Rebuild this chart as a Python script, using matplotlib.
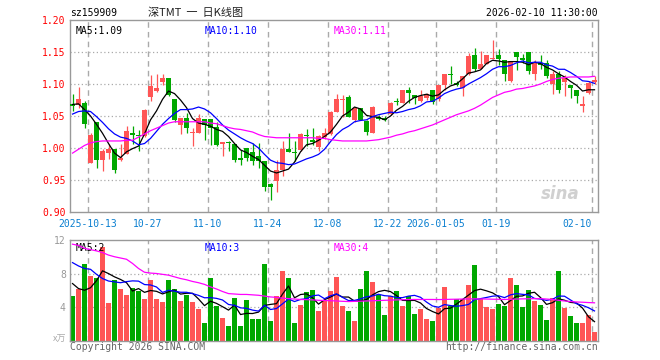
import matplotlib
matplotlib.use("Agg")
import matplotlib.pyplot as plt
import numpy as np

W, H = 660, 360
RED = "#ff5555"
GREEN = "#00a800"
GRID = "#aaaaaa"
MONO = "DejaVu Sans Mono"

# daily candles, 2025-09-30 .. 2026-02-10 (88 trading days)
opens = [1.069, 1.067, 1.071, 0.977, 1.040, 0.982, 0.992, 0.998, 0.981, 0.991,
         1.023, 1.021, 1.018, 1.079, 1.089, 1.103, 1.110, 1.076, 1.036, 1.047,
         1.023, 1.024, 1.045, 1.045, 1.033, 1.007, 1.010, 1.007, 0.984, 1.000,
         0.994, 0.987, 0.979, 0.944, 0.948, 0.965, 0.999, 0.994, 0.997, 1.021,
         1.013, 1.001, 1.017, 1.022, 1.057, 1.075, 1.079, 1.043, 1.062, 1.042,
         1.023, 1.049, 1.047, 1.053, 1.073, 1.070, 1.090, 1.083, 1.074, 1.078,
         1.091, 1.076, 1.099, 1.115, 1.102, 1.093, 1.115, 1.146, 1.124, 1.131,
         1.139, 1.146, 1.138, 1.104, 1.150, 1.141, 1.150, 1.115, 1.133, 1.133,
         1.100, 1.115, 1.103, 1.098, 1.091, 1.065, 1.086, 1.103]
highs = [1.085, 1.096, 1.074, 1.024, 1.040, 0.998, 1.007, 0.998, 1.007, 1.034,
         1.034, 1.028, 1.061, 1.114, 1.115, 1.116, 1.110, 1.076, 1.047, 1.055,
         1.031, 1.053, 1.045, 1.046, 1.041, 1.010, 1.011, 1.007, 0.997, 1.000,
         1.008, 1.008, 0.979, 0.945, 0.982, 1.011, 1.024, 1.011, 1.023, 1.029,
         1.031, 1.021, 1.031, 1.058, 1.085, 1.083, 1.083, 1.063, 1.062, 1.043,
         1.065, 1.052, 1.050, 1.072, 1.078, 1.090, 1.096, 1.083, 1.090, 1.086,
         1.091, 1.099, 1.115, 1.128, 1.104, 1.113, 1.148, 1.156, 1.151, 1.146,
         1.168, 1.154, 1.138, 1.136, 1.150, 1.147, 1.150, 1.138, 1.146, 1.138,
         1.120, 1.120, 1.114, 1.099, 1.091, 1.082, 1.104, 1.112]
lows = [1.058, 1.063, 1.031, 0.976, 0.968, 0.964, 0.983, 0.961, 0.979, 0.990,
        1.007, 0.995, 1.017, 1.074, 1.088, 1.098, 1.081, 1.040, 1.022, 1.023,
        1.003, 1.023, 1.012, 1.005, 1.003, 0.987, 0.995, 0.978, 0.973, 0.979,
        0.974, 0.969, 0.933, 0.919, 0.931, 0.956, 0.993, 0.979, 0.995, 1.003,
        1.005, 0.995, 1.014, 1.021, 1.056, 1.049, 1.049, 1.040, 1.043, 1.021,
        1.023, 1.043, 1.042, 1.052, 1.067, 1.070, 1.070, 1.069, 1.072, 1.075,
        1.068, 1.073, 1.091, 1.100, 1.097, 1.081, 1.114, 1.120, 1.124, 1.131,
        1.139, 1.130, 1.105, 1.103, 1.122, 1.133, 1.115, 1.107, 1.123, 1.109,
        1.084, 1.086, 1.081, 1.078, 1.070, 1.057, 1.084, 1.100]
closes = [1.066, 1.077, 1.038, 1.021, 0.982, 0.996, 0.998, 0.965, 0.984, 1.026,
          1.021, 1.018, 1.060, 1.097, 1.094, 1.109, 1.083, 1.043, 1.047, 1.032,
          1.025, 1.047, 1.036, 1.031, 1.005, 1.009, 1.008, 0.982, 0.982, 0.985,
          0.980, 0.979, 0.939, 0.939, 0.966, 0.999, 0.993, 0.992, 1.022, 1.018,
          1.010, 1.018, 1.023, 1.057, 1.076, 1.077, 1.049, 1.062, 1.043, 1.025,
          1.064, 1.046, 1.044, 1.071, 1.072, 1.090, 1.086, 1.078, 1.082, 1.085,
          1.072, 1.099, 1.115, 1.114, 1.099, 1.113, 1.144, 1.124, 1.131, 1.146,
          1.141, 1.139, 1.115, 1.136, 1.142, 1.137, 1.120, 1.133, 1.129, 1.112,
          1.116, 1.091, 1.109, 1.094, 1.081, 1.069, 1.102, 1.107]

ma5 = [1.068, 1.069, 1.060, 1.050, 1.037, 1.023, 1.007, 0.992, 0.985, 0.994,
       0.999, 1.003, 1.022, 1.044, 1.058, 1.076, 1.089, 1.085, 1.075, 1.063,
       1.046, 1.039, 1.037, 1.034, 1.029, 1.026, 1.018, 1.007, 0.997, 0.993,
       0.987, 0.982, 0.973, 0.964, 0.961, 0.964, 0.967, 0.978, 0.994, 1.005,
       1.007, 1.012, 1.018, 1.025, 1.037, 1.050, 1.056, 1.064, 1.061, 1.051,
       1.049, 1.048, 1.044, 1.050, 1.059, 1.065, 1.073, 1.079, 1.082, 1.084,
       1.081, 1.083, 1.091, 1.097, 1.100, 1.108, 1.117, 1.119, 1.122, 1.132,
       1.137, 1.136, 1.134, 1.135, 1.135, 1.134, 1.130, 1.134, 1.132, 1.126,
       1.122, 1.116, 1.111, 1.104, 1.098, 1.089, 1.091, 1.091]
ma10 = [1.053, 1.057, 1.058, 1.057, 1.049, 1.040, 1.030, 1.022, 1.017, 1.015,
        1.011, 1.005, 1.007, 1.015, 1.026, 1.037, 1.046, 1.054, 1.060, 1.060,
        1.061, 1.064, 1.061, 1.055, 1.046, 1.036, 1.028, 1.022, 1.016, 1.011,
        1.007, 1.000, 0.990, 0.981, 0.977, 0.976, 0.974, 0.975, 0.979, 0.983,
        0.986, 0.990, 0.998, 1.010, 1.021, 1.029, 1.034, 1.041, 1.043, 1.044,
        1.049, 1.052, 1.054, 1.056, 1.055, 1.057, 1.060, 1.062, 1.066, 1.072,
        1.073, 1.078, 1.085, 1.089, 1.092, 1.094, 1.100, 1.105, 1.110, 1.116,
        1.123, 1.127, 1.127, 1.129, 1.133, 1.136, 1.133, 1.134, 1.134, 1.130,
        1.128, 1.123, 1.123, 1.118, 1.112, 1.105, 1.104, 1.101]
ma30 = [0.992, 0.998, 1.004, 1.008, 1.010, 1.011, 1.011, 1.011, 1.011, 1.012,
        1.012, 1.017, 1.022, 1.027, 1.031, 1.035, 1.039, 1.041, 1.041, 1.041,
        1.041, 1.041, 1.041, 1.039, 1.038, 1.035, 1.032, 1.030, 1.029, 1.027,
        1.025, 1.021, 1.018, 1.017, 1.016, 1.016, 1.016, 1.016, 1.016, 1.016,
        1.016, 1.015, 1.015, 1.013, 1.012, 1.011, 1.011, 1.011, 1.011, 1.011,
        1.012, 1.013, 1.015, 1.017, 1.020, 1.022, 1.025, 1.027, 1.030, 1.033,
        1.036, 1.040, 1.044, 1.048, 1.052, 1.055, 1.058, 1.062, 1.067, 1.073,
        1.079, 1.083, 1.087, 1.089, 1.092, 1.093, 1.095, 1.097, 1.100, 1.104,
        1.107, 1.109, 1.110, 1.111, 1.111, 1.111, 1.111, 1.112]

# volume, unit: 万
volumes = [5.29, 6.18, 9.17, 7.68, 7.43, 11.15, 4.53, 7.23, 6.10, 5.49,
           6.22, 5.94, 5.01, 7.19, 5.01, 4.65, 7.19, 6.10, 4.77, 5.49,
           4.65, 3.80, 2.10, 7.43, 4.16, 2.71, 1.74, 5.13, 1.74, 4.89,
           2.59, 2.59, 9.13, 2.34, 5.37, 8.28, 7.43, 2.10, 4.28, 5.78,
           5.98, 3.56, 4.77, 5.86, 7.60, 4.16, 3.56, 2.34, 6.10, 8.28,
           6.99, 5.49, 3.07, 5.37, 5.86, 4.16, 5.37, 3.19, 3.80, 2.59,
           2.34, 3.92, 6.34, 4.16, 5.01, 5.01, 6.59, 9.01, 5.01, 4.04,
           3.80, 4.40, 4.16, 7.43, 6.59, 4.04, 5.98, 4.77, 4.28, 2.46,
           5.13, 8.28, 3.92, 2.95, 2.10, 2.10, 3.07, 1.01]
vol_ma5 = [6.8, 6.2, 6.0, 6.3, 7.15, 8.32, 7.99, 7.60, 7.29, 6.90,
           5.91, 6.20, 5.75, 5.97, 5.87, 5.56, 5.81, 6.03, 5.54, 5.64,
           5.64, 4.96, 4.16, 4.69, 4.43, 4.04, 3.63, 4.23, 3.10, 3.24,
           3.22, 3.39, 4.19, 4.31, 4.40, 5.54, 6.51, 5.10, 5.49, 5.57,
           5.11, 4.34, 4.87, 5.19, 5.55, 5.19, 5.19, 4.70, 4.75, 4.89,
           5.45, 5.84, 5.99, 5.84, 5.36, 4.79, 4.77, 4.79, 4.48, 3.82,
           3.46, 3.17, 3.80, 3.87, 4.35, 4.89, 5.42, 5.96, 6.13, 5.93,
           5.69, 5.25, 4.28, 4.77, 5.28, 5.32, 5.64, 5.76, 5.13, 4.31,
           4.52, 4.98, 4.81, 4.55, 4.48, 3.87, 2.83, 2.25]
vol_ma10 = [9.3, 8.9, 8.6, 8.5, 7.9, 7.4, 7.1, 7.0, 6.9, 7.03,
            7.12, 7.09, 6.68, 6.63, 6.39, 5.74, 6.00, 5.89, 5.76, 5.76,
            5.60, 5.39, 5.10, 5.12, 5.03, 4.84, 4.30, 4.20, 3.90, 3.84,
            3.63, 3.51, 4.21, 3.70, 3.82, 4.38, 4.95, 4.65, 4.90, 4.99,
            5.33, 5.43, 4.99, 5.34, 5.56, 5.15, 4.77, 4.79, 4.97, 5.22,
            5.32, 5.52, 5.35, 5.30, 5.12, 5.12, 5.30, 5.39, 5.16, 4.59,
            4.12, 3.97, 4.29, 4.17, 4.09, 4.17, 4.30, 4.88, 5.00, 5.14,
            5.29, 5.34, 5.12, 5.45, 5.60, 5.51, 5.45, 5.02, 4.95, 4.79,
            4.92, 5.31, 5.29, 4.84, 4.39, 4.20, 3.91, 3.53]
vol_ma30 = [11.5, 11.35, 11.0, 10.85, 10.7, 10.5, 10.2, 10.0, 9.85, 9.7,
            9.2, 8.6, 8.15, 8.05, 8.0, 7.9, 7.8, 7.6, 7.4, 7.25,
            7.05, 6.9, 6.7, 6.4, 6.15, 5.85, 5.6, 5.55, 5.5, 5.5,
            5.45, 5.4, 5.3, 5.2, 5.15, 5.05, 5.0, 4.95, 4.9, 4.88,
            4.85, 4.8, 4.78, 4.75, 4.72, 4.68, 4.65, 4.67, 4.7, 4.72,
            4.75, 4.77, 4.8, 4.82, 4.85, 4.87, 4.89, 4.9, 4.9, 4.9,
            4.9, 4.89, 4.9, 4.92, 4.93, 4.95, 4.96, 4.97, 4.96, 4.95,
            4.93, 4.92, 4.9, 4.92, 4.95, 4.97, 4.98, 5.0, 5.0, 4.95,
            4.9, 4.8, 4.72, 4.65, 4.6, 4.57, 4.53, 4.5]

date_pos = [3, 13, 23, 33, 43, 53, 61, 71, 87]
date_labels = ["2025-10-13", "10-27", "11-10", "11-24", "12-08",
               "12-22", "2026-01-05", "01-19", "02-10"]
price_ticks = [0.90, 0.95, 1.00, 1.05, 1.10, 1.15, 1.20]
vol_ticks = [4, 8, 12]


def fx(px):
    return px / W


def fy(py):
    return 1 - py / H


def style_axes(ax):
    for s in ax.spines.values():
        s.set_color("#999999")
        s.set_linewidth(1.0)
    ax.set_xlim(0, len(closes))
    ax.set_xticks([])
    ax.tick_params(axis="y", length=0, pad=3)
    for x in date_pos:
        ax.axvline(x, color=GRID, lw=1.0, ls=(0, (4, 3)), zorder=0)


fig = plt.figure(figsize=(W / 100, H / 100), dpi=100)
ax = fig.add_axes([fx(70), fy(212), 528 / W, 192 / H])
axv = fig.add_axes([fx(70), fy(340.5), 528 / W, 100.5 / H])

idx = np.arange(len(closes))
xc = idx + 0.42
o = np.array(opens)
c = np.array(closes)
colors = [RED if cc >= oo else GREEN for oo, cc in zip(o, c)]

# price panel
style_axes(ax)
ax.set_ylim(0.90, 1.20)
for p in price_ticks[1:-1]:
    ax.axhline(p, color=GRID, lw=0.9, ls=(0, (1, 2)), zorder=0)
ax.vlines(xc, lows, highs, colors=colors, lw=0.9, zorder=2)
body_lo = np.minimum(o, c)
body_h = np.maximum(np.abs(c - o), 0.0016)
ax.bar(xc, body_h, bottom=body_lo, width=0.82, color=colors, lw=0, zorder=3)
ax.plot(xc, ma5, color="black", lw=0.9, zorder=4)
ax.plot(xc, ma10, color="#0000ff", lw=0.9, zorder=4)
ax.plot(xc, ma30, color="#ff00ff", lw=0.9, zorder=4)
ax.set_yticks(price_ticks)
ax.set_yticklabels([f"{p:.2f}" for p in price_ticks], color="#ff0000",
                   family=MONO, fontsize=7)
ax.text(0.01, 0.97, f"MA5:{ma5[-1]:.2f}", transform=ax.transAxes,
        family=MONO, fontsize=7, color="black", va="top")
ax.text(0.255, 0.97, f"MA10:{ma10[-1]:.2f}", transform=ax.transAxes,
        family=MONO, fontsize=7, color="#0000ff", va="top")
ax.text(0.5, 0.97, f"MA30:{ma30[-1]:.2f}", transform=ax.transAxes,
        family=MONO, fontsize=7, color="#ff00ff", va="top")
for x, lab in zip(date_pos, date_labels):
    ha = "right" if x == date_pos[-1] else "center"
    ax.text(x, -0.035, lab, transform=ax.get_xaxis_transform(), ha=ha,
            va="top", family=MONO, fontsize=7, color="#0a7fd0")
ax.text(0.965, 0.07, "sina", transform=ax.transAxes, ha="right",
        fontsize=12, style="italic", weight="bold", color="#d0d0d0", zorder=1)

# volume panel
style_axes(axv)
axv.set_ylim(0, 12)
for v in vol_ticks[:-1]:
    axv.axhline(v, color=GRID, lw=0.9, ls=(0, (1, 2)), zorder=0)
axv.bar(xc, volumes, width=0.82, color=colors, lw=0, zorder=2)
axv.plot(xc, vol_ma5, color="black", lw=0.9, zorder=4)
axv.plot(xc, vol_ma10, color="#0000ff", lw=0.9, zorder=4)
axv.plot(xc, vol_ma30, color="#ff00ff", lw=0.9, zorder=4)
axv.set_yticks(vol_ticks)
axv.set_yticklabels([str(v) for v in vol_ticks], color="#999999",
                    family=MONO, fontsize=7)
axv.text(0.01, 0.97, f"MA5:{int(vol_ma5[-1])}", transform=axv.transAxes,
         family=MONO, fontsize=7, color="black", va="top")
axv.text(0.255, 0.97, f"MA10:{int(vol_ma10[-1])}", transform=axv.transAxes,
         family=MONO, fontsize=7, color="#0000ff", va="top")
axv.text(0.5, 0.97, f"MA30:{int(vol_ma30[-1])}", transform=axv.transAxes,
         family=MONO, fontsize=7, color="#ff00ff", va="top")

# header / footer text
fig.text(fx(70), fy(13), "sz159909", family=MONO, fontsize=7, va="center")
fig.text(fx(148), fy(13), "深TMT  一  日K线图",
         family=["Noto Sans CJK SC", "DejaVu Sans"],
         fontsize=8, va="center", color="#222222")
fig.text(fx(598), fy(13), "2026-02-10 11:30:00", family=MONO, fontsize=7,
         va="center", ha="right")
fig.text(fx(66), fy(339), "x万", family=["Noto Sans CJK SC", "DejaVu Sans"],
         fontsize=6.5, va="center", ha="right", color="#aaaaaa")
fig.text(fx(70), fy(347), "Copyright 2026 SINA.COM", family=MONO, fontsize=7,
         va="center", color="#666666")
fig.text(fx(598), fy(347), "http://finance.sina.com.cn", family=MONO, fontsize=7,
         va="center", ha="right", color="#666666")

fig.savefig("out.png", dpi=100)
